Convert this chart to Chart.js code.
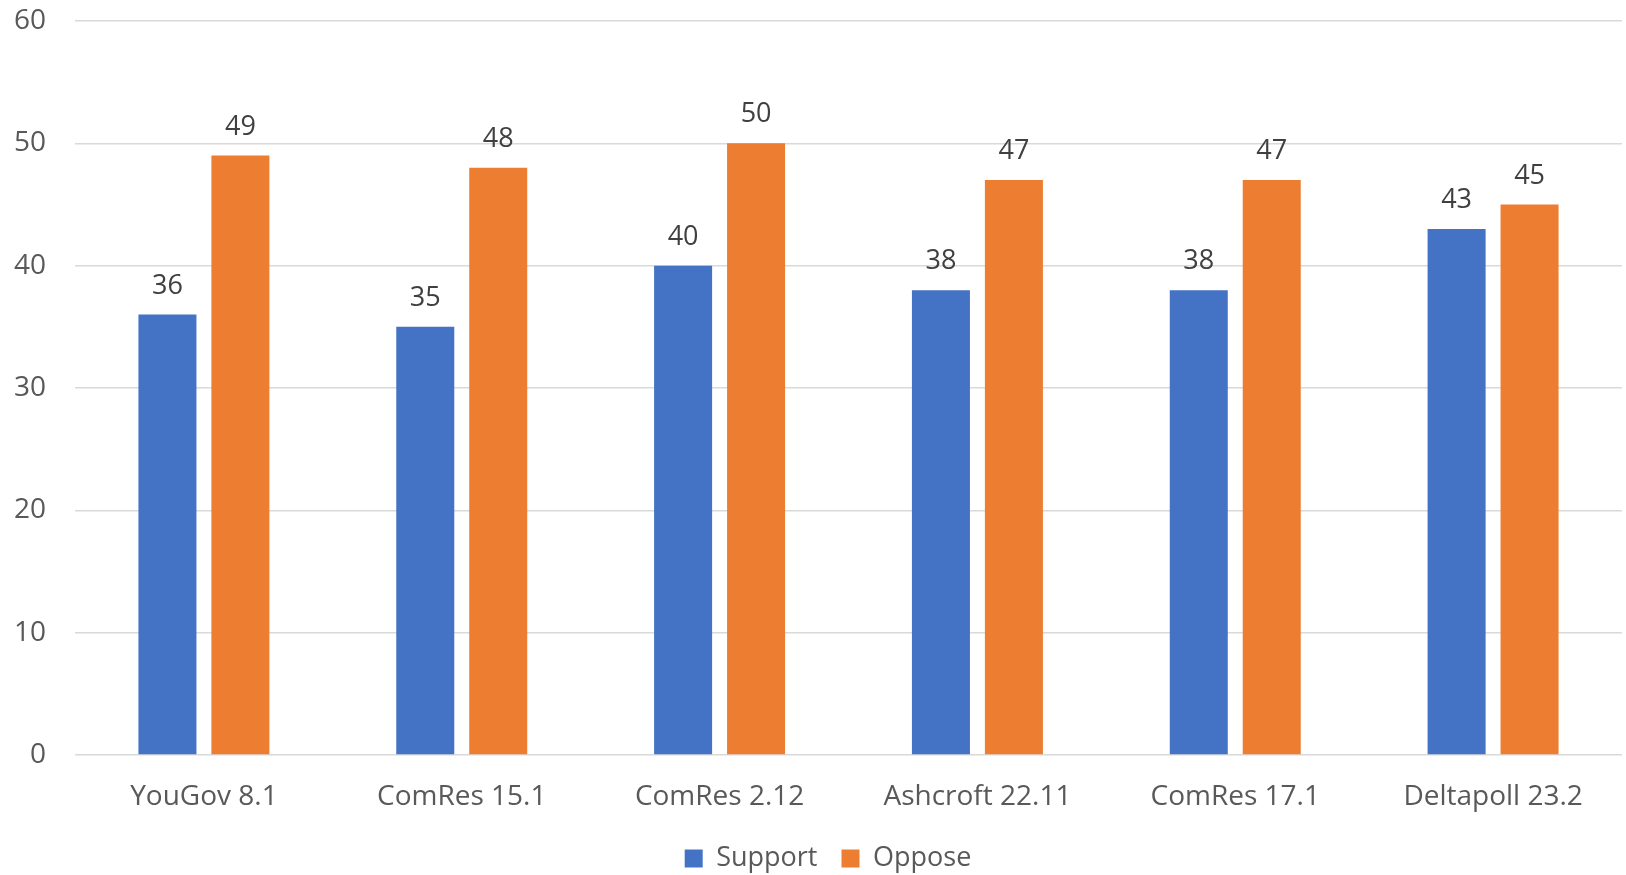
<!DOCTYPE html>
<html>
<head>
<meta charset="utf-8">
<script src="https://cdn.jsdelivr.net/npm/chart.js@4/dist/chart.umd.min.js"></script>
<style>
    html, body { margin: 0; padding: 0; background: #fff; }
    #wrap { width: 1626px; height: 875px; }
</style>
</head>
<body>
<div id="wrap"><canvas id="pollChart"></canvas></div>
<script>
// === ДАННЫЕ ===
const categories = ['YouGov 8.1', 'ComRes 15.1', 'ComRes 2.12', 'Ashcroft 22.11', 'ComRes 17.1', 'Deltapoll 23.2'];
const supportValues = [36, 35, 40, 38, 38, 43];
const opposeValues = [49, 48, 50, 47, 47, 45];
const yTicks = [0, 10, 20, 30, 40, 50, 60];

const FONT = '"Open Sans", "Noto Sans", sans-serif';

// === ПОДПИСИ НАД СТОЛБЦАМИ ===
const valueLabels = {
    id: 'valueLabels',
    afterDatasetsDraw(chart) {
        const ctx = chart.ctx;
        ctx.save();
        ctx.font = `27px ${FONT}`;
        ctx.fillStyle = '#404040';
        ctx.textAlign = 'center';
        ctx.textBaseline = 'alphabetic';
        chart.data.datasets.forEach((ds, i) => {
            chart.getDatasetMeta(i).data.forEach((bar, j) => {
                ctx.fillText(String(ds.data[j]), bar.x, bar.y - 21);
            });
        });
        ctx.restore();
    }
};

// легенда чуть правее центра холста, как в оригинале
const legendShift = {
    id: 'legendShift',
    afterLayout(chart) {
        if (chart.legend) {
            chart.legend.left += 17;
            chart.legend.right += 17;
        }
    }
};

new Chart(document.getElementById('pollChart'), {
    type: 'bar',
    data: {
        labels: categories,
        datasets: [
            { label: 'Support', data: supportValues, backgroundColor: '#4472C4' },
            { label: 'Oppose', data: opposeValues, backgroundColor: '#ED7D31' }
        ]
    },
    options: {
        responsive: true,
        maintainAspectRatio: false,
        animation: false,
        datasets: { bar: { categoryPercentage: 0.566, barPercentage: 0.795 } },
        layout: { padding: { top: 21, right: 4, bottom: -7, left: 0 } },
        plugins: {
            tooltip: { enabled: false },
            legend: {
                position: 'bottom',
                labels: {
                    font: { family: FONT, size: 27 },
                    color: '#595959',
                    boxWidth: 18,
                    boxHeight: 18,
                    padding: 24
                }
            }
        },
        scales: {
            x: {
                grid: { display: false, drawTicks: false },
                border: { display: false },
                ticks: { font: { family: FONT, size: 28 }, color: '#595959', padding: 25, maxRotation: 0 },
                afterFit: s => { s.height = 66; }
            },
            y: {
                min: 0,
                max: 60,
                grid: { color: '#d9d9d9', lineWidth: 1.5, drawTicks: false },
                border: { display: false },
                afterBuildTicks: s => { s.ticks = yTicks.map(v => ({ value: v })); },
                ticks: { font: { family: FONT, size: 28 }, color: '#595959', padding: 29 },
                afterFit: s => {
                    s.width = 75;
                    s.paddingTop = 0;
                    s.paddingBottom = 0;
                }
            }
        }
    },
    plugins: [valueLabels, legendShift]
});
</script>
</body>
</html>
